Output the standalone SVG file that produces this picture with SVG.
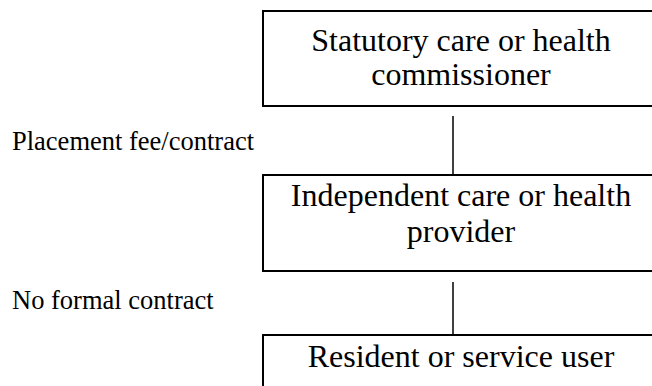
<svg xmlns="http://www.w3.org/2000/svg" width="652" height="386" viewBox="0 0 652 386">
<style>
.box{fill:#fff;stroke:#000;stroke-width:2}
.bt{font-family:"Liberation Serif","Times New Roman",serif;font-size:32px;fill:#000;text-anchor:middle}
.lb{font-family:"Liberation Serif","Times New Roman",serif;font-size:26.5px;fill:#000}
.cn{stroke:#000;stroke-width:1.5;fill:none}
</style>
<rect width="652" height="386" fill="#fff"/>
<g id="connectors">
<line class="cn" x1="453" y1="116" x2="453" y2="175"/>
<line class="cn" x1="453" y1="282" x2="453" y2="335"/>
</g>
<g id="labels">
<text class="lb" x="12" y="150">Placement fee/contract</text>
<text class="lb" x="12" y="309">No formal contract</text>
</g>
<g id="commissioner">
<rect class="box" x="263" y="11" width="400" height="95"/>
<text class="bt" x="461" y="51">Statutory care or health</text>
<text class="bt" x="461" y="85">commissioner</text>
</g>
<g id="provider">
<rect class="box" x="263" y="175" width="400" height="96"/>
<text class="bt" x="461" y="206">Independent care or health</text>
<text class="bt" x="461" y="242">provider</text>
</g>
<g id="resident">
<rect class="box" x="263" y="335" width="400" height="80"/>
<text class="bt" x="461" y="367">Resident or service user</text>
</g>
</svg>
